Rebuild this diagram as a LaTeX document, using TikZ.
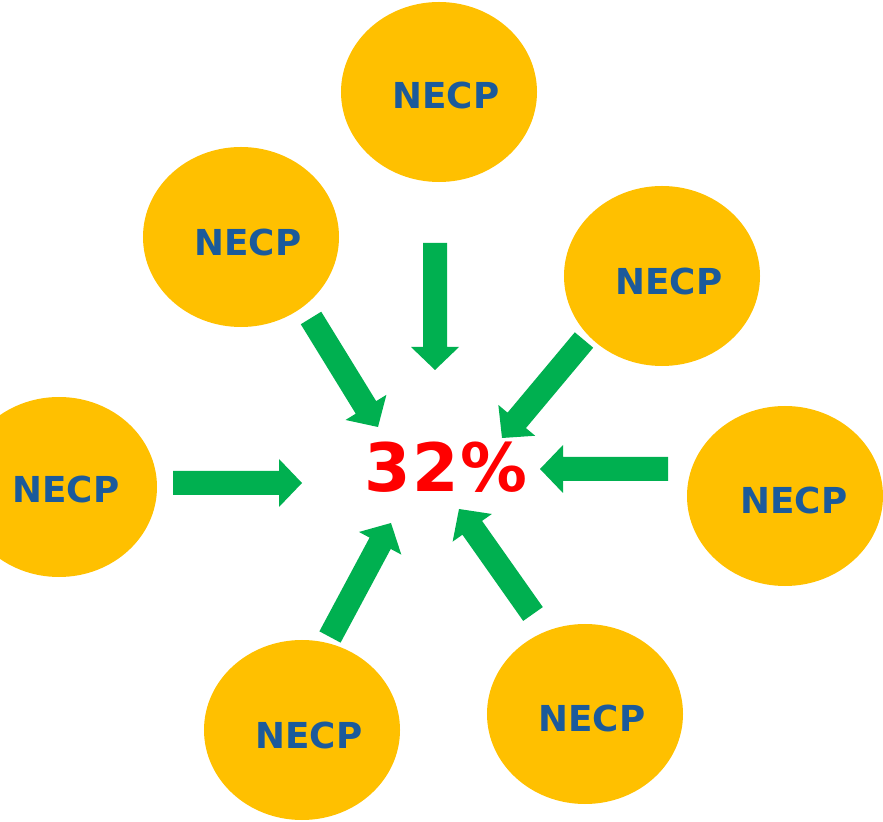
\documentclass[tikz,border=0pt]{standalone}
\usepackage{fontspec}
\setmainfont{DejaVu Sans}
\newfontfamily\pctfont[LetterSpace=3]{DejaVu Sans}
\usetikzlibrary{shapes.geometric,calc}
\definecolor{blobyellow}{HTML}{FFC000}
\definecolor{necpblue}{HTML}{1B5A9B}
\definecolor{arrowgreen}{HTML}{00B050}
\definecolor{pctred}{HTML}{FF0000}
\tikzset{
  blob/.style={ellipse, fill=blobyellow, draw=none, inner sep=0pt,
    minimum width=5.88cm, minimum height=5.4cm},
  lbl/.style={text=necpblue, font=\bfseries\fontsize{30.5pt}{36pt}\selectfont, inner sep=0pt},
  pct/.style={text=pctred, font=\pctfont\bfseries\fontsize{57pt}{64pt}\selectfont, inner sep=0pt},
  arrowfill/.style={fill=arrowgreen, draw=none}
}
\newcommand{\garrow}[3]{%
  \coordinate (#1h) at ($(#3)!0.69cm!(#2)$);
  \fill[arrowfill] ($(#2)!0.36cm!90:(#3)$) -- ($(#1h)!0.36cm!90:(#3)$)
    -- ($(#1h)!0.72cm!90:(#3)$) -- (#3) -- ($(#1h)!0.72cm!-90:(#3)$)
    -- ($(#1h)!0.36cm!-90:(#3)$) -- ($(#2)!0.36cm!-90:(#3)$) -- cycle;
}
\begin{document}
\begin{tikzpicture}[x=0.03cm,y=-0.03cm]
\useasboundingbox (0,0) rectangle (883,822);
\clip (0,0) rectangle (883,822);
% ellipses
\node[blob] (e1) at (439,92) {};
\node[blob] (e2) at (241,237) {};
\node[blob] (e3) at (662,276) {};
\node[blob] (e4) at (59,487) {};
\node[blob] (e5) at (785,496) {};
\node[blob] (e6) at (302,730) {};
\node[blob] (e7) at (585,714) {};
% labels
\node[lbl] (t1) at (446,95) {NECP};
\node[lbl] (t2) at (248,242) {NECP};
\node[lbl] (t3) at (669,281) {NECP};
\node[lbl] (t4) at (66,489) {NECP};
\node[lbl] (t5) at (794,500) {NECP};
\node[lbl] (t6) at (309,735) {NECP};
\node[lbl] (t7) at (592,718) {NECP};
% centre
\node[pct] (c) at (446,467) {32\%};
% arrow ends
\coordinate (a1s) at (435,243); \coordinate (a1e) at (435,370);
\coordinate (a2s) at (311,318); \coordinate (a2e) at (378,427);
\coordinate (a3s) at (584,340); \coordinate (a3e) at (502,438);
\coordinate (a4s) at (173,483); \coordinate (a4e) at (302,483);
\coordinate (a5s) at (668,469); \coordinate (a5e) at (540,469);
\coordinate (a6s) at (330,637); \coordinate (a6e) at (391,523);
\coordinate (a7s) at (533,614); \coordinate (a7e) at (459,509);
\garrow{a1}{a1s}{a1e}
\garrow{a2}{a2s}{a2e}
\garrow{a3}{a3s}{a3e}
\garrow{a4}{a4s}{a4e}
\garrow{a5}{a5s}{a5e}
\garrow{a6}{a6s}{a6e}
\garrow{a7}{a7s}{a7e}
\end{tikzpicture}
\end{document}
